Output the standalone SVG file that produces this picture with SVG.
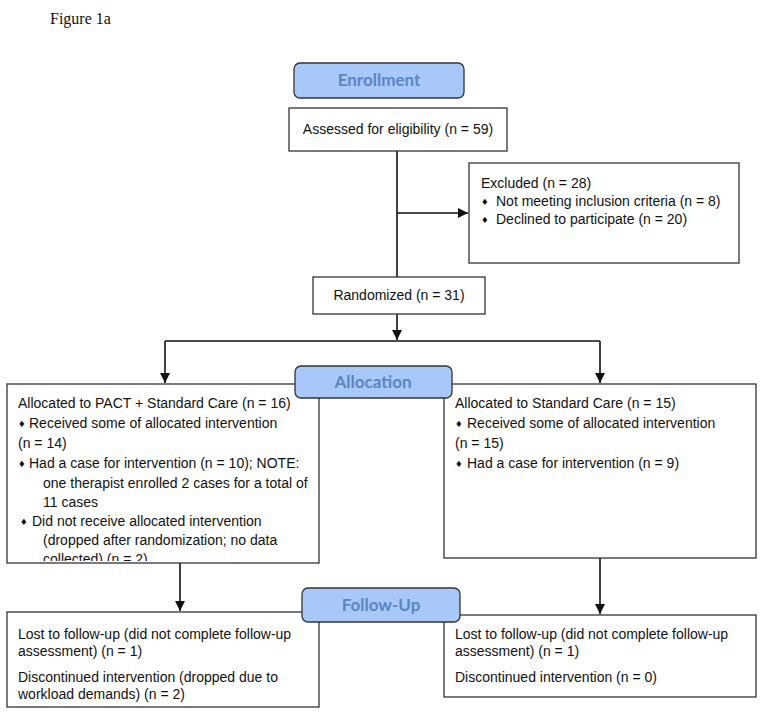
<svg xmlns="http://www.w3.org/2000/svg" width="764" height="718" viewBox="0 0 764 718">
<style>
.box{fill:#fff;stroke:#333;stroke-width:1.3}
.pill{fill:#a8c8f9;stroke:#333;stroke-width:1.3}
.pt{font-family:Lato,"Open Sans",sans-serif;font-weight:bold;font-size:17px;fill:#5a86c2;text-anchor:middle}
.t{font-family:"Liberation Sans",Arial,sans-serif;font-size:14px;fill:#111}
.b{font-family:"DejaVu Sans",sans-serif;font-size:8.5px;fill:#111}
.c{fill:none;stroke:#111;stroke-width:1.6}
.fig{font-family:"Liberation Serif","Times New Roman",serif;font-size:16px;fill:#111}
</style>
<defs>
<marker id="ah" markerUnits="userSpaceOnUse" markerWidth="10" markerHeight="10" viewBox="0 0 10 10" refX="10" refY="5" orient="auto">
<path d="M0,0 L10,5 L0,10 z" fill="#111"/>
</marker>
<clipPath id="clipL"><rect x="7" y="384" width="312" height="177"/></clipPath>
</defs>
<text class="fig" x="50" y="24">Figure 1a</text>

<g id="connectors">
<line class="c" x1="397" y1="151" x2="397" y2="277"/>
<line class="c" x1="397" y1="213" x2="468" y2="213" marker-end="url(#ah)"/>
<line class="c" x1="397" y1="314" x2="397" y2="340" marker-end="url(#ah)"/>
<polyline class="c" points="165,341 600,341"/>
<line class="c" x1="165" y1="341" x2="165" y2="383" marker-end="url(#ah)"/>
<line class="c" x1="600" y1="341" x2="600" y2="383" marker-end="url(#ah)"/>
<line class="c" x1="180" y1="563" x2="180" y2="611" marker-end="url(#ah)"/>
<line class="c" x1="600" y1="558" x2="600" y2="614" marker-end="url(#ah)"/>
</g>

<g id="enrollment">
<rect class="pill" x="294" y="63" width="170" height="35" rx="6"/>
<text class="pt" x="379" y="86">Enrollment</text>
</g>

<g id="assessed">
<rect class="box" x="289" y="108" width="218" height="43"/>
<text class="t" x="398" y="134" text-anchor="middle">Assessed for eligibility (n = 59)</text>
</g>

<g id="excluded">
<rect class="box" x="469" y="163" width="270" height="100"/>
<text class="t" x="481" y="188">Excluded (n = 28)</text>
<text class="b" x="481" y="205">♦</text>
<text class="t" x="496" y="206">Not meeting inclusion criteria (n = 8)</text>
<text class="b" x="481" y="223">♦</text>
<text class="t" x="496" y="224">Declined to participate (n = 20)</text>
</g>

<g id="randomized">
<rect class="box" x="313" y="277" width="172" height="37"/>
<text class="t" x="399" y="300" text-anchor="middle">Randomized (n = 31)</text>
</g>

<g id="alloc-left">
<rect class="box" x="7" y="384" width="312" height="179"/>
<g clip-path="url(#clipL)">
<text class="t" x="18" y="408">Allocated to PACT + Standard Care (n = 16)</text>
<text class="b" x="18" y="427">♦</text>
<text class="t" x="29" y="428">Received some of allocated intervention</text>
<text class="t" x="18" y="448">(n = 14)</text>
<text class="b" x="18" y="467">♦</text>
<text class="t" x="29" y="468">Had a case for intervention (n = 10); NOTE:</text>
<text class="t" x="43" y="488">one therapist enrolled 2 cases for a total of</text>
<text class="t" x="43" y="507">11 cases</text>
<text class="b" x="20" y="525">♦</text>
<text class="t" x="32" y="526">Did not receive allocated intervention</text>
<text class="t" x="43" y="545">(dropped after randomization; no data</text>
<text class="t" x="43" y="564">collected) (n = 2)</text>
</g>
</g>

<g id="alloc-right">
<rect class="box" x="444" y="384" width="312" height="174"/>
<text class="t" x="455" y="408">Allocated to Standard Care (n = 15)</text>
<text class="b" x="455" y="427">♦</text>
<text class="t" x="467" y="428">Received some of allocated intervention</text>
<text class="t" x="455" y="448">(n = 15)</text>
<text class="b" x="455" y="467">♦</text>
<text class="t" x="467" y="468">Had a case for intervention (n = 9)</text>
</g>

<g id="allocation">
<rect class="pill" x="295" y="366" width="157" height="32" rx="6"/>
<text class="pt" x="373" y="388">Allocation</text>
</g>

<g id="followup-left">
<rect class="box" x="7" y="612" width="312" height="95"/>
<text class="t" x="18" y="639">Lost to follow-up (did not complete follow-up</text>
<text class="t" x="18" y="656">assessment) (n = 1)</text>
<text class="t" x="18" y="682">Discontinued intervention (dropped due to</text>
<text class="t" x="18" y="699">workload demands) (n = 2)</text>
</g>

<g id="followup-right">
<rect class="box" x="444" y="615" width="312" height="82"/>
<text class="t" x="455" y="639">Lost to follow-up (did not complete follow-up</text>
<text class="t" x="455" y="656">assessment) (n = 1)</text>
<text class="t" x="455" y="682">Discontinued intervention (n = 0)</text>
</g>

<g id="followup">
<rect class="pill" x="302" y="588" width="158" height="34" rx="6"/>
<text class="pt" x="381" y="611">Follow-Up</text>
</g>
</svg>
